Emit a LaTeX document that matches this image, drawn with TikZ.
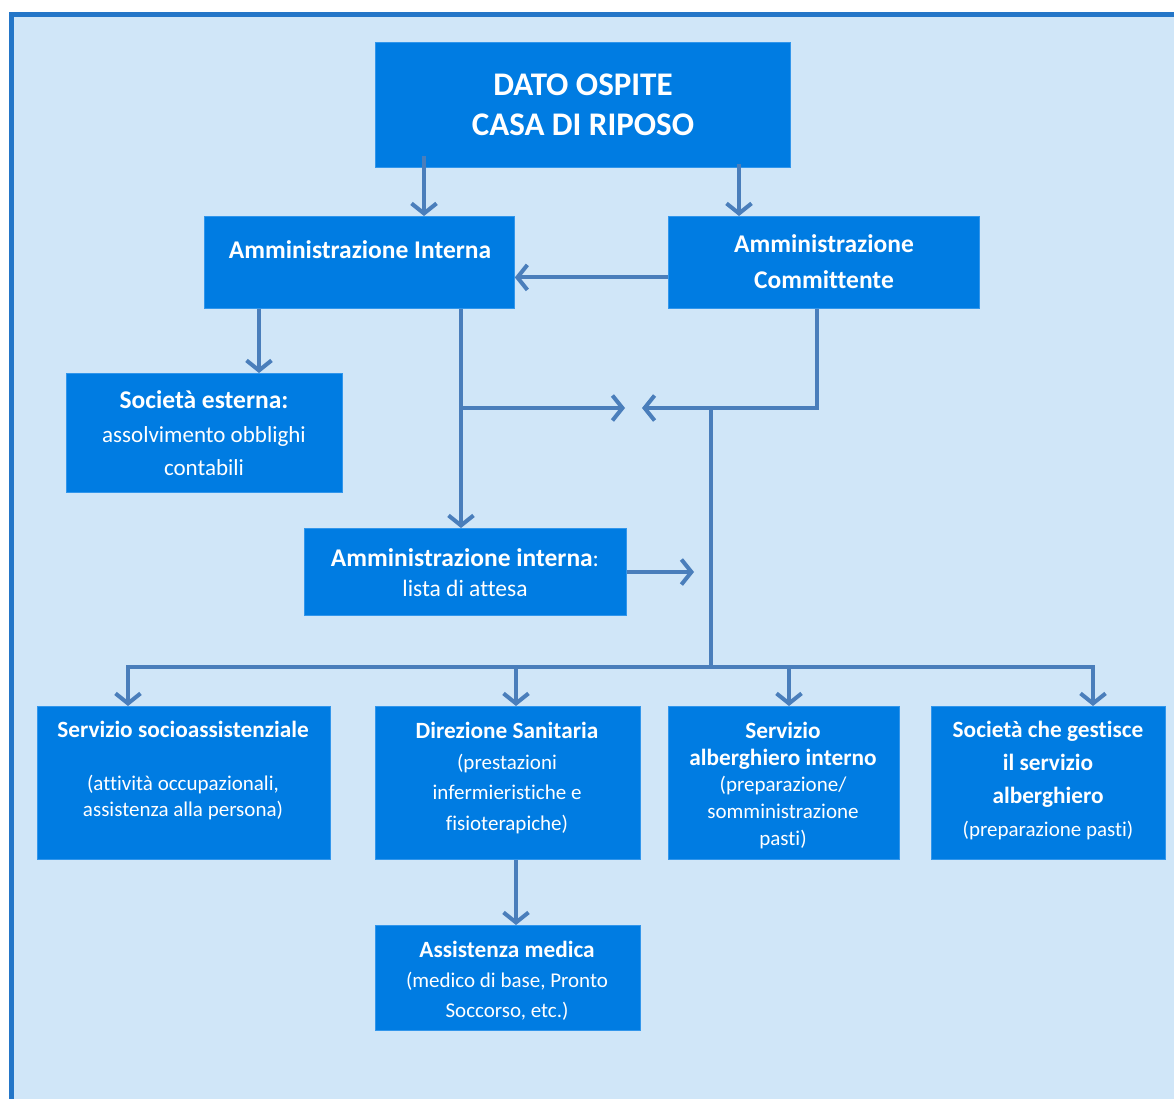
\documentclass[tikz,border=0pt]{standalone}
\usepackage{fontspec}
\setmainfont{Carlito}[Ligatures=CommonOff]
\usetikzlibrary{arrows.meta,calc}
\definecolor{bg}{RGB}{208,230,248}
\definecolor{boxc}{RGB}{0,124,226}
\definecolor{boxedge}{RGB}{50,150,235}
\definecolor{arr}{RGB}{74,126,187}
\definecolor{framec}{RGB}{36,118,200}
\begin{document}
\begin{tikzpicture}[x=1pt,y=-1pt,
  box/.style={fill=boxc, draw=boxedge, line width=0.8pt, inner sep=0pt, anchor=north west},
  txt/.style={text=white, align=center, inner sep=0pt},
  conn/.style={draw=arr, line width=4pt, line join=miter},
  arrow/.style={conn, -{Straight Barb[length=10pt,width=25pt]}}
]
\useasboundingbox (0,0) rectangle (1174,1098);
\clip (0,0) rectangle (1174,1098);
\fill[white] (0,0) rectangle (1174,1098);
\draw[framec, line width=5pt, fill=bg] (11.5,14.5) rectangle (1190,1120);

% boxes
\node[box, minimum width=415pt, minimum height=125pt] (dato) at (375,42) {};
\node[box, minimum width=310pt, minimum height=92pt] (ai) at (204,216) {};
\node[box, minimum width=311pt, minimum height=92pt] (ac) at (668,216) {};
\node[box, minimum width=276pt, minimum height=119pt] (se) at (66,373) {};
\node[box, minimum width=322pt, minimum height=87pt] (la) at (304,528) {};
\node[box, minimum width=293pt, minimum height=153pt] (ss) at (37,706) {};
\node[box, minimum width=265pt, minimum height=153pt] (ds) at (375,706) {};
\node[box, minimum width=231pt, minimum height=153pt] (sa) at (668,706) {};
\node[box, minimum width=234pt, minimum height=153pt] (sg) at (931,706) {};
\node[box, minimum width=265pt, minimum height=105pt] (am) at (375,925) {};

% texts
\node[txt, font=\bfseries\fontsize{33}{40}\selectfont] (t1) at (583,105) {DATO OSPITE\\CASA DI RIPOSO};
\node[txt, font=\bfseries\fontsize{25.5}{36}\selectfont] (t2) at (360,250) {Amministrazione Interna};
\node[txt, font=\bfseries\fontsize{25.5}{36}\selectfont] (t3) at (824,262) {Amministrazione\\Committente};
\node[txt, font=\fontsize{23}{33.5}\selectfont] (t4) at (204,433.5)
  {{\bfseries\fontsize{25.5}{33.5}\selectfont Società esterna:}\\assolvimento obblighi\\contabili};
\node[txt, font=\fontsize{23.5}{30}\selectfont] (t5) at (465,573)
  {{\bfseries\fontsize{25.5}{30}\selectfont Amministrazione interna}:\\lista di attesa};
\node[txt, font=\fontsize{21}{26.5}\selectfont] (t6) at (183,770.5)
  {{\bfseries\fontsize{23.3}{26.5}\selectfont Servizio socioassistenziale}\\\mbox{}\\(attività occupazionali,\\assistenza alla persona)};
\node[txt, font=\fontsize{21}{30.7}\selectfont] (t7) at (507,778)
  {{\bfseries\fontsize{23.3}{30.7}\selectfont Direzione Sanitaria}\\(prestazioni\\infermieristiche e\\fisioterapiche)};
\node[txt, font=\fontsize{21}{26.8}\selectfont] (t8) at (783,785.5)
  {{\bfseries\fontsize{23.3}{26.8}\selectfont Servizio}\\{\bfseries\fontsize{23.3}{26.8}\selectfont alberghiero interno}\\(preparazione/\\somministrazione\\pasti)};
\node[txt, font=\fontsize{21}{33}\selectfont] (t9) at (1048,781)
  {{\bfseries\fontsize{23.3}{33}\selectfont Società che gestisce}\\{\bfseries\fontsize{23.3}{33}\selectfont il servizio}\\{\bfseries\fontsize{23.3}{33}\selectfont alberghiero}\\(preparazione pasti)};
\node[txt, font=\fontsize{21}{30}\selectfont] (t10) at (507,981)
  {{\bfseries\fontsize{23.3}{30}\selectfont Assistenza medica}\\(medico di base, Pronto\\Soccorso, etc.)};

% guide coordinates
\coordinate (xa) at (424,0);
\coordinate (xb) at (739,0);
\coordinate (xc) at (259,0);
\coordinate (xd) at (461,0);
\coordinate (xe) at (817,0);
\coordinate (xf) at (711,0);
\coordinate (xg) at (128,0);
\coordinate (xh) at (516,0);
\coordinate (xi) at (789,0);
\coordinate (xj) at (1093,0);
\coordinate (hub) at (0,408);
\coordinate (bus) at (0,667);
\coordinate (pL) at (625,408);
\coordinate (pR) at (642,408);
\coordinate (pM) at (694,572);

% connectors
\draw[arrow] ([yshift=12pt]dato.south -| xa) -- (ai.north -| xa);
\draw[arrow] ([yshift=4pt]dato.south -| xb) -- (ac.north -| xb);
\draw[arrow] ([yshift=-15pt]ac.west) -- ([yshift=-15pt]ai.east);
\draw[arrow] (ai.south -| xc) -- (se.north -| xc);
\draw[arrow] (ai.south -| xd) -- (la.north -| xd);
\draw[arrow] (xd |- hub) -- (pL);
\draw[arrow] (ac.south -| xe) |- (pR);
\draw[conn] (xf |- hub) -- (xf |- bus);
\draw[arrow] (la.east |- pM) -- (pM);
\draw[conn] ([xshift=-2pt]xg |- bus) -- ([xshift=2pt]xj |- bus);
\draw[arrow] (xg |- bus) -- (ss.north -| xg);
\draw[arrow] (xh |- bus) -- (ds.north -| xh);
\draw[arrow] (xi |- bus) -- (sa.north -| xi);
\draw[arrow] (xj |- bus) -- (sg.north -| xj);
\draw[arrow] (ds.south -| xh) -- (am.north -| xh);
\end{tikzpicture}
\end{document}
